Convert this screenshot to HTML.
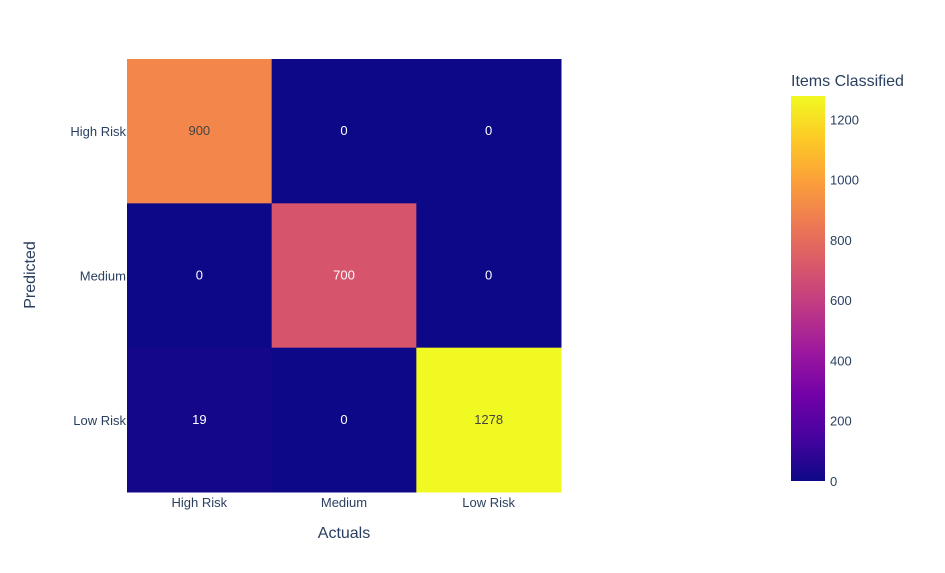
<!DOCTYPE html>
<html><head><meta charset="utf-8"><style>
body{margin:0;background:#fff;font-family:"Liberation Sans",sans-serif;}
svg text{font-family:"Liberation Sans",sans-serif;}
</style></head><body>
<svg id="chart" width="945" height="568" xmlns="http://www.w3.org/2000/svg">
<defs><linearGradient id="cbgrad" x1="0" y1="1" x2="0" y2="0"></linearGradient></defs>
<g id="cells"></g>
<g id="labels"></g>
<g id="axes"></g>
<text x="344" y="538" text-anchor="middle" font-size="16" fill="#2a3f5f">Actuals</text>
<text x="35" y="275" text-anchor="middle" font-size="16" fill="#2a3f5f" transform="rotate(-90 35 275)">Predicted</text>
<text x="791" y="86" font-size="16" fill="#2a3f5f">Items Classified</text>
<rect x="791" y="96" width="34" height="385" fill="url(#cbgrad)"/>
<g id="cbticks"></g>
</svg>
<script>
const xCats=["High Risk","Medium","Low Risk"];
const yCats=["High Risk","Medium","Low Risk"];
const z=[[900,0,0],[0,700,0],[19,0,1278]];
const cbTicks=[0,200,400,600,800,1000,1200];
const stops=['#0d0887','#46039f','#7201a8','#9c179e','#bd3786','#d8576b','#ed7953','#fb9f3a','#fdca26','#f0f921'];
const NS="http://www.w3.org/2000/svg";
const X0=127,X1=561,Y0=59,Y1=492;
const zmin=0,zmax=Math.max(...z.flat());
const cw=(X1-X0)/xCats.length,ch=(Y1-Y0)/yCats.length;
function hex(h){return [1,3,5].map(i=>parseInt(h.substr(i,2),16));}
function color(v){let t=(v-zmin)/(zmax-zmin)*(stops.length-1);let i=Math.min(Math.floor(t),stops.length-2);let f=t-i;let a=hex(stops[i]),b=hex(stops[i+1]);let c=a.map((x,k)=>Math.round(x+(b[k]-x)*f));return {s:`rgb(${c.join(',')})`,l:(0.299*c[0]+0.587*c[1]+0.114*c[2])};}
function mk(tag,attrs,parent,txt){const e=document.createElementNS(NS,tag);for(const k in attrs)e.setAttribute(k,attrs[k]);if(txt!==undefined)e.textContent=txt;document.getElementById(parent).appendChild(e);return e;}
z.forEach((row,r)=>row.forEach((v,c)=>{
 const col=color(v);
 const rc=mk('rect',{x:X0+c*cw,y:Y0+r*ch,width:cw+0.5,height:ch+0.5,fill:col.s},'cells');
 
 
 const t=mk('text',{x:X0+(c+0.5)*cw,y:Y0+(r+0.5)*ch+4,'text-anchor':'middle','font-size':13,fill:col.l>150?'#444':'#fff'},'labels',String(v));
 
 
}));
xCats.forEach((n,i)=>{const t=mk('text',{x:X0+(i+0.5)*cw,y:507,'text-anchor':'middle','font-size':13,fill:'#2a3f5f'},'axes',n);
 
 });
yCats.forEach((n,i)=>{const t=mk('text',{x:X0-1,y:Y0+(i+0.5)*ch+5,'text-anchor':'end','font-size':13,fill:'#2a3f5f'},'axes',n);
 
 });
const g=document.getElementById('cbgrad');
stops.forEach((s,i)=>{const st=document.createElementNS(NS,'stop');st.setAttribute('offset',i/(stops.length-1));st.setAttribute('stop-color',s);g.appendChild(st);});
const CB0=481,CB1=96;
cbTicks.forEach(v=>{const y=CB0-(v-zmin)/(zmax-zmin)*(CB0-CB1);
 const t=mk('text',{x:830,y:y+5,'font-size':13,fill:'#2a3f5f'},'cbticks',String(v));
 
 });
</script>
</body></html>
